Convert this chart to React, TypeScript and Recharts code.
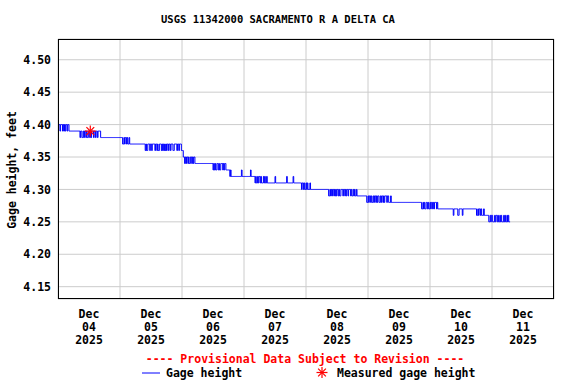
import { CartesianGrid, ComposedChart, Line, Scatter, XAxis, YAxis } from "recharts";

// gage height readings, every 15 minutes from Dec 04 00:00, as [feet, number of readings]
const gageRuns: [number, number][] = [
  [4.4, 3], [4.39, 1], [4.4, 3], [4.39, 1], [4.4, 1], [4.39, 1], [4.4, 1], [4.39, 1], [4.4, 2], [4.39, 1], [4.4, 2],
  [4.39, 17],
  [4.38, 1], [4.39, 2], [4.38, 2], [4.39, 1], [4.38, 1], [4.39, 2], [4.38, 1], [4.39, 1], [4.38, 2], [4.39, 2],
  [4.38, 1], [4.39, 1], [4.38, 1], [4.39, 3], [4.38, 1], [4.39, 2], [4.38, 1], [4.39, 2], [4.38, 1], [4.39, 4],
  [4.38, 34],
  [4.37, 2], [4.38, 1], [4.37, 1], [4.38, 2], [4.37, 1], [4.38, 1], [4.37, 2], [4.38, 1], [4.37, 2],
  [4.37, 22],
  [4.36, 1], [4.37, 1], [4.36, 2], [4.37, 3], [4.36, 1], [4.37, 2], [4.36, 1], [4.37, 4], [4.36, 1], [4.37, 2],
  [4.36, 1], [4.37, 1], [4.36, 2], [4.37, 3], [4.36, 1], [4.37, 1], [4.36, 1], [4.37, 1], [4.36, 1], [4.37, 1],
  [4.36, 1], [4.37, 1], [4.36, 1], [4.37, 2], [4.36, 1], [4.37, 2], [4.36, 1], [4.37, 3], [4.36, 2], [4.37, 4],
  [4.36, 1], [4.37, 2], [4.36, 1], [4.37, 3],
  [4.36, 3], [4.35, 2], [4.34, 1], [4.35, 1], [4.34, 1], [4.35, 2], [4.34, 1], [4.35, 1], [4.34, 2], [4.35, 2],
  [4.34, 1], [4.35, 1], [4.34, 1], [4.35, 2],
  [4.34, 28],
  [4.33, 1], [4.34, 1], [4.33, 1], [4.34, 1], [4.33, 2], [4.34, 2], [4.33, 1], [4.34, 1], [4.33, 2], [4.34, 3],
  [4.33, 1], [4.34, 1], [4.33, 1], [4.34, 2],
  [4.33, 6], [4.32, 1], [4.33, 1],
  [4.32, 16], [4.33, 1], [4.32, 13], [4.33, 1], [4.32, 6],
  [4.31, 1], [4.32, 1], [4.31, 2], [4.32, 1], [4.31, 1], [4.32, 2], [4.31, 1], [4.32, 1], [4.31, 3], [4.32, 1],
  [4.31, 1], [4.32, 1], [4.31, 2], [4.32, 1], [4.31, 1],
  [4.31, 11], [4.32, 1], [4.31, 17], [4.32, 1], [4.31, 9], [4.32, 1], [4.31, 12],
  [4.3, 1], [4.31, 2], [4.3, 1], [4.31, 1], [4.3, 2], [4.31, 1], [4.3, 1], [4.31, 1], [4.3, 3], [4.31, 1], [4.3, 2],
  [4.3, 26],
  [4.29, 2], [4.3, 1], [4.29, 1], [4.3, 1], [4.29, 1], [4.3, 2], [4.29, 1], [4.3, 1], [4.29, 1], [4.3, 1],
  [4.29, 1], [4.3, 2], [4.29, 1], [4.3, 1], [4.29, 2], [4.3, 3], [4.29, 1], [4.3, 2], [4.29, 1], [4.3, 1],
  [4.29, 1], [4.3, 2], [4.29, 1], [4.3, 3], [4.29, 1], [4.3, 1], [4.29, 2], [4.3, 1], [4.29, 1], [4.3, 1],
  [4.29, 2], [4.3, 1], [4.29, 5],
  [4.29, 10],
  [4.28, 2], [4.29, 1], [4.28, 1], [4.29, 2], [4.28, 1], [4.29, 1], [4.28, 2], [4.29, 1], [4.28, 1], [4.29, 2],
  [4.28, 1], [4.29, 1], [4.28, 1], [4.29, 2], [4.28, 2], [4.29, 1], [4.28, 1], [4.29, 2], [4.28, 1], [4.29, 1],
  [4.28, 1], [4.29, 3], [4.28, 1], [4.29, 2], [4.28, 3], [4.29, 1],
  [4.28, 47],
  [4.27, 2], [4.28, 1], [4.27, 1], [4.28, 1], [4.27, 2], [4.28, 2], [4.27, 1], [4.28, 1], [4.27, 2], [4.28, 1],
  [4.27, 1], [4.28, 2], [4.27, 1], [4.28, 1], [4.27, 1], [4.28, 3], [4.27, 1], [4.28, 1],
  [4.27, 24], [4.26, 1], [4.27, 6], [4.26, 2], [4.27, 5], [4.26, 1], [4.27, 21],
  [4.26, 2], [4.27, 1], [4.26, 1], [4.27, 2], [4.26, 1], [4.27, 1], [4.26, 3], [4.27, 1], [4.26, 7],
  [4.25, 2], [4.26, 1], [4.25, 1], [4.26, 2], [4.25, 3], [4.26, 1], [4.25, 1], [4.26, 2], [4.25, 1], [4.26, 1],
  [4.25, 2], [4.26, 1], [4.25, 1], [4.26, 1], [4.25, 3], [4.26, 1], [4.25, 1], [4.26, 1], [4.25, 2], [4.26, 1],
  [4.25, 1], [4.26, 1], [4.25, 2],
];

// field measurement: hours after Dec 04 00:00, feet
const measuredHours = [12.5];
const measuredFeet = [4.39];

const dayLabels = ["04", "05", "06", "07", "08", "09", "10", "11"];
const monthLabel = "Dec";
const yearLabel = "2025";
const dayNoons = [12, 36, 60, 84, 108, 132, 156, 180];
const dayStarts = [24, 48, 72, 96, 120, 144, 168];
const yTicks = [4.15, 4.2, 4.25, 4.3, 4.35, 4.4, 4.45, 4.5];

const gageData: { t: number; v: number }[] = [];
let reading = 0;
for (const [feet, count] of gageRuns) {
  for (let k = 0; k < count; k++) {
    gageData.push({ t: reading * 0.25, v: feet });
    reading++;
  }
}
gageData.push({ t: reading * 0.25, v: gageRuns[gageRuns.length - 1][0] });

const measuredData = measuredHours.map((t, i) => ({ t, v: measuredFeet[i] }));

const FONT = '"DejaVu Sans Mono", "Liberation Mono", monospace';

function DateTick({ x, y, payload }: any) {
  const i = dayNoons.indexOf(payload.value);
  return (
    <text
      x={x}
      y={y + 11}
      textAnchor="middle"
      fontFamily={FONT}
      fontWeight="bold"
      fontSize={11.5}
      fill="#000"
    >
      <tspan x={x} dy={0}>{monthLabel}</tspan>
      <tspan x={x} dy={13}>{dayLabels[i]}</tspan>
      <tspan x={x} dy={13}>{yearLabel}</tspan>
    </text>
  );
}

function Asterisk({ cx, cy }: { cx: number; cy: number }) {
  const r = 5.5;
  const d = r * 0.7071;
  return (
    <g stroke="#FF0000" strokeWidth={1.2}>
      <line x1={cx - r} y1={cy} x2={cx + r} y2={cy} />
      <line x1={cx} y1={cy - r} x2={cx} y2={cy + r} />
      <line x1={cx - d} y1={cy - d} x2={cx + d} y2={cy + d} />
      <line x1={cx - d} y1={cy + d} x2={cx + d} y2={cy - d} />
    </g>
  );
}

const textStyle = {
  position: "absolute" as const,
  fontFamily: FONT,
  fontWeight: "bold" as const,
  whiteSpace: "nowrap" as const,
  lineHeight: "14px",
};

export default function App() {
  return (
    <div
      style={{
        position: "absolute",
        left: 0,
        top: 0,
        width: 576,
        height: 384,
        background: "#fff",
        overflow: "hidden",
      }}
    >
      <div style={{ ...textStyle, top: 12, left: -10, width: 576, textAlign: "center", fontSize: 10.5 }}>
        USGS 11342000 SACRAMENTO R A DELTA CA
      </div>

      <ComposedChart
        width={576}
        height={384}
        data={gageData}
        margin={{ top: 39, right: 22, bottom: 40, left: 8 }}
      >
        <CartesianGrid xAxisId="grid" stroke="#CCCCCC" strokeWidth={1} />
        <XAxis
          xAxisId="date"
          dataKey="t"
          type="number"
          domain={[0, 192]}
          ticks={dayNoons}
          tick={<DateTick />}
          tickLine={false}
          axisLine={false}
          height={45}
          interval={0}
        />
        <XAxis
          xAxisId="grid"
          dataKey="t"
          type="number"
          domain={[0, 192]}
          ticks={dayStarts}
          hide
        />
        <YAxis
          dataKey="v"
          type="number"
          domain={[4.131, 4.532]}
          ticks={yTicks}
          tickFormatter={(v: number) => v.toFixed(2)}
          tick={{ fontFamily: FONT, fontWeight: "bold", fontSize: 11.5, fill: "#000" }}
          tickLine={false}
          tickMargin={1}
          axisLine={false}
          width={50}
          allowDataOverflow
        />
        <Line
          xAxisId="date"
          dataKey="v"
          type="stepAfter"
          stroke="#0000FF"
          strokeWidth={1}
          dot={false}
          activeDot={false}
          isAnimationActive={false}
        />
        <Scatter
          xAxisId="date"
          data={measuredData}
          dataKey="v"
          shape={(p: any) => <Asterisk cx={p.cx} cy={p.cy} />}
          isAnimationActive={false}
        />
      </ComposedChart>

      <div
        style={{
          position: "absolute",
          left: 58,
          top: 39,
          width: 496,
          height: 260,
          border: "1px solid #000",
          boxSizing: "border-box",
          pointerEvents: "none",
        }}
      />

      <div
        style={{
          ...textStyle,
          left: 0,
          top: 40,
          width: 24,
          height: 260,
          display: "flex",
          alignItems: "center",
          justifyContent: "center",
        }}
      >
        <div style={{ transform: "rotate(-90deg)", fontSize: 11.5 }}>Gage height, feet</div>
      </div>

      <div style={{ ...textStyle, top: 352, left: 0, width: 610, textAlign: "center", fontSize: 11.5, color: "#FF0000" }}>
        ---- Provisional Data Subject to Revision ----
      </div>

      <svg style={{ position: "absolute", left: 0, top: 360 }} width={576} height={24}>
        <line x1={142} y1={13} x2={160} y2={13} stroke="#0000FF" strokeWidth={1} />
        <Asterisk cx={322} cy={12.5} />
      </svg>
      <div style={{ ...textStyle, top: 366, left: 166, fontSize: 11.5 }}>Gage height</div>
      <div style={{ ...textStyle, top: 366, left: 337, fontSize: 11.5 }}>Measured gage height</div>
    </div>
  );
}
